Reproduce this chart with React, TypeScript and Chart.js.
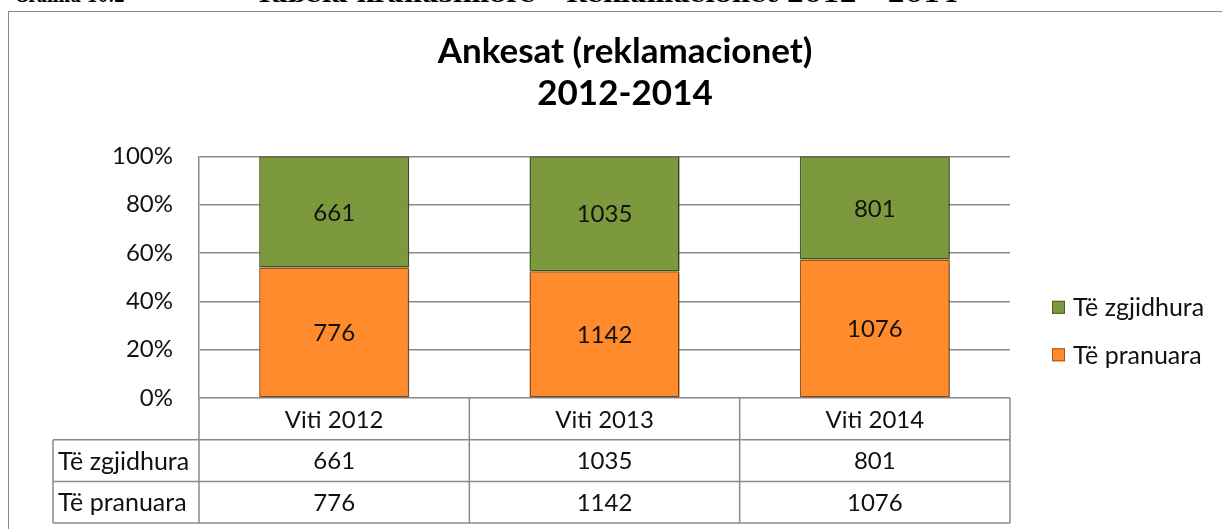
import React, { useEffect, useRef } from "react";
import { Chart, registerables } from "chart.js";

Chart.register(...registerables);

// ---- data ----
const categories = ["Viti 2012", "Viti 2013", "Viti 2014"];
const pranuara = [776, 1142, 1076];
const zgjidhura = [661, 1035, 801];
const seriesPranuara = "Të pranuara";
const seriesZgjidhura = "Të zgjidhura";
const yTickValues = [0, 20, 40, 60, 80, 100];
const titleLines = ["Ankesat (reklamacionet)", "2012-2014"];
const headerLeft = "Grafiku 10.2";
const headerRight = "Tabela krahasimore – Reklamacionet 2012 – 2014";

// ---- styles ----
const FONT = "Lato, 'Noto Sans', sans-serif";
const GREEN = "#7D993E";
const GREEN_DARK = "#4B5E24";
const ORANGE = "#FF8B2C";
const ORANGE_DARK = "#9C5518";
const GRID = "#8a8a8a";
const TEXT = "#111111";

const totals = pranuara.map((v, i) => v + zgjidhura[i]);
const pctPranuara = pranuara.map((v, i) => (v / totals[i]) * 100);
const pctZgjidhura = zgjidhura.map((v, i) => (v / totals[i]) * 100);

const barShadowPlugin = {
  id: "barShadow",
  beforeDatasetsDraw(chart: any) {
    const ctx = chart.ctx;
    ctx.save();
    ctx.shadowColor = "rgba(0,0,0,0.35)";
    ctx.shadowBlur = 3;
    ctx.shadowOffsetX = 1.5;
    ctx.shadowOffsetY = 1.5;
  },
  afterDatasetsDraw(chart: any) {
    chart.ctx.restore();
  },
};

const valueLabelsPlugin = {
  id: "valueLabels",
  afterDatasetsDraw(chart: any) {
    const ctx = chart.ctx;
    ctx.save();
    ctx.shadowColor = "transparent";
    ctx.font = `24px ${FONT}`;
    ctx.fillStyle = TEXT;
    ctx.textAlign = "center";
    ctx.textBaseline = "middle";
    chart.data.datasets.forEach((ds: any, di: number) => {
      const meta = chart.getDatasetMeta(di);
      meta.data.forEach((el: any, i: number) => {
        const p = el.getProps(["x", "y", "base"], true);
        ctx.fillText(String(ds.raw[i]), p.x, (p.y + p.base) / 2 + 1);
      });
    });
    ctx.restore();
  },
};

const tablePlugin = {
  id: "dataTable",
  afterDraw(chart: any) {
    const ctx = chart.ctx;
    const area = chart.chartArea;
    const n = categories.length;
    const step = (area.right - area.left) / n;
    const rowH = 41.7;
    const labelLeft = 53;
    const top = area.bottom;
    ctx.save();
    ctx.strokeStyle = GRID;
    ctx.lineWidth = 1.5;
    ctx.beginPath();
    for (let r = 1; r <= 3; r++) {
      const y = top + r * rowH;
      ctx.moveTo(labelLeft, y);
      ctx.lineTo(area.right, y);
    }
    for (let i = 0; i <= n; i++) {
      const x = area.left + i * step;
      ctx.moveTo(x, top);
      ctx.lineTo(x, top + 3 * rowH);
    }
    ctx.moveTo(labelLeft, top + rowH);
    ctx.lineTo(labelLeft, top + 3 * rowH);
    ctx.stroke();

    ctx.fillStyle = TEXT;
    ctx.textBaseline = "middle";
    const rows = [...chart.data.datasets].reverse();
    rows.forEach((ds: any, r: number) => {
      const cy = top + (r + 1.5) * rowH + 1;
      ctx.textAlign = "left";
      ctx.font = `25px ${FONT}`;
      ctx.fillText(ds.label, labelLeft + 5, cy);
      ctx.textAlign = "center";
      ctx.font = `24px ${FONT}`;
      ds.raw.forEach((v: number, i: number) => {
        const cx = chart.scales.x.getPixelForValue(i);
        ctx.fillText(String(v), cx, cy);
      });
    });
    ctx.restore();
  },
};

const legendPlugin = {
  id: "sideLegend",
  afterDraw(chart: any) {
    const ctx = chart.ctx;
    const area = chart.chartArea;
    const items = [...chart.data.datasets].reverse();
    const x0 = area.right + 42;
    ctx.save();
    ctx.font = `25px ${FONT}`;
    ctx.textBaseline = "middle";
    ctx.textAlign = "left";
    items.forEach((ds: any, i: number) => {
      const cy = area.top + 151 + i * 47.5;
      ctx.fillStyle = ds.backgroundColor;
      ctx.fillRect(x0, cy - 6.5, 13, 13);
      ctx.strokeStyle = ds.borderColor;
      ctx.lineWidth = 1;
      ctx.strokeRect(x0 + 0.5, cy - 6, 12, 12);
      ctx.fillStyle = TEXT;
      ctx.fillText(ds.label, x0 + 21, cy + 1);
    });
    ctx.restore();
  },
};

function FitText({ text, left, width }: { text: string; left: number; width: number }) {
  const ref = useRef<HTMLSpanElement>(null);
  useEffect(() => {
    const el = ref.current;
    if (!el) return;
    el.style.transform = "none";
    const w = el.getBoundingClientRect().width;
    if (w > 0) el.style.transform = `scaleX(${width / w})`;
  }, [text, width]);
  return (
    <span
      ref={ref}
      style={{
        position: "absolute",
        left,
        top: -16,
        whiteSpace: "pre",
        transformOrigin: "0 0",
        font: "bold 21px 'DejaVu Serif', serif",
        lineHeight: "21px",
        color: "#000",
      }}
    >
      {text}
    </span>
  );
}

export default function App() {
  const canvasRef = useRef<HTMLCanvasElement>(null);

  useEffect(() => {
    const canvas = canvasRef.current;
    if (!canvas) return;
    const chart = new Chart(canvas, {
      type: "bar",
      data: {
        labels: categories,
        datasets: [
          {
            label: seriesPranuara,
            data: pctPranuara,
            raw: pranuara,
            backgroundColor: ORANGE,
            borderColor: ORANGE_DARK,
            borderWidth: 1.5,
            borderSkipped: false,
          } as any,
          {
            label: seriesZgjidhura,
            data: pctZgjidhura,
            raw: zgjidhura,
            backgroundColor: GREEN,
            borderColor: GREEN_DARK,
            borderWidth: 1.5,
            borderSkipped: false,
          } as any,
        ],
      },
      options: {
        responsive: false,
        animation: false,
        devicePixelRatio: 1,
        layout: { padding: { left: 28, right: 0, top: 0, bottom: 0 } },
        datasets: {
          bar: { barPercentage: 0.555, categoryPercentage: 1 },
        },
        plugins: {
          legend: { display: false },
          tooltip: { enabled: false },
          title: {
            display: true,
            text: titleLines,
            color: "#000",
            font: { family: FONT, size: 35, weight: "bold", lineHeight: 1.19 },
            padding: { top: 31, bottom: 42 },
          },
        },
        scales: {
          x: {
            stacked: true,
            grid: { display: false },
            border: { display: false },
            ticks: {
              color: TEXT,
              font: { family: FONT, size: 24, lineHeight: 1.2 },
              padding: 0,
              maxRotation: 0,
            },
            afterFit: (s: any) => {
              s.height = 131;
            },
          },
          y: {
            stacked: true,
            min: 0,
            max: 100,
            afterBuildTicks: (s: any) => {
              s.ticks = yTickValues.map((v) => ({ value: v }));
            },
            grid: { color: GRID, lineWidth: 1.5, drawTicks: false },
            border: { display: true, color: GRID, width: 1.5 },
            ticks: {
              color: TEXT,
              font: { family: FONT, size: 24 },
              padding: 26,
              callback: (v: any) => `${v}%`,
            },
            afterFit: (s: any) => {
              s.width = 171;
            },
          },
          legendSpace: {
            type: "linear",
            position: "right",
            display: true,
            grid: { display: false },
            border: { display: false },
            ticks: { display: false },
            afterFit: (s: any) => {
              s.width = 212;
            },
          } as any,
        },
      },
      plugins: [barShadowPlugin, valueLabelsPlugin, tablePlugin, legendPlugin],
    });
    return () => chart.destroy();
  }, []);

  return (
    <div
      style={{
        position: "absolute",
        left: 0,
        top: 0,
        width: 1222,
        height: 529,
        overflow: "hidden",
        background: "#fff",
      }}
    >
      <FitText text={headerLeft} left={15} width={110} />
      <FitText text={headerRight} left={255} width={703} />
      <div
        style={{
          position: "absolute",
          left: 8,
          top: 11,
          width: 1400,
          height: 800,
          border: "1.5px solid #8a8a8a",
        }}
      />
      <canvas
        ref={canvasRef}
        width={1222}
        height={529}
        style={{ position: "absolute", left: 0, top: 0, width: 1222, height: 529 }}
      />
    </div>
  );
}
